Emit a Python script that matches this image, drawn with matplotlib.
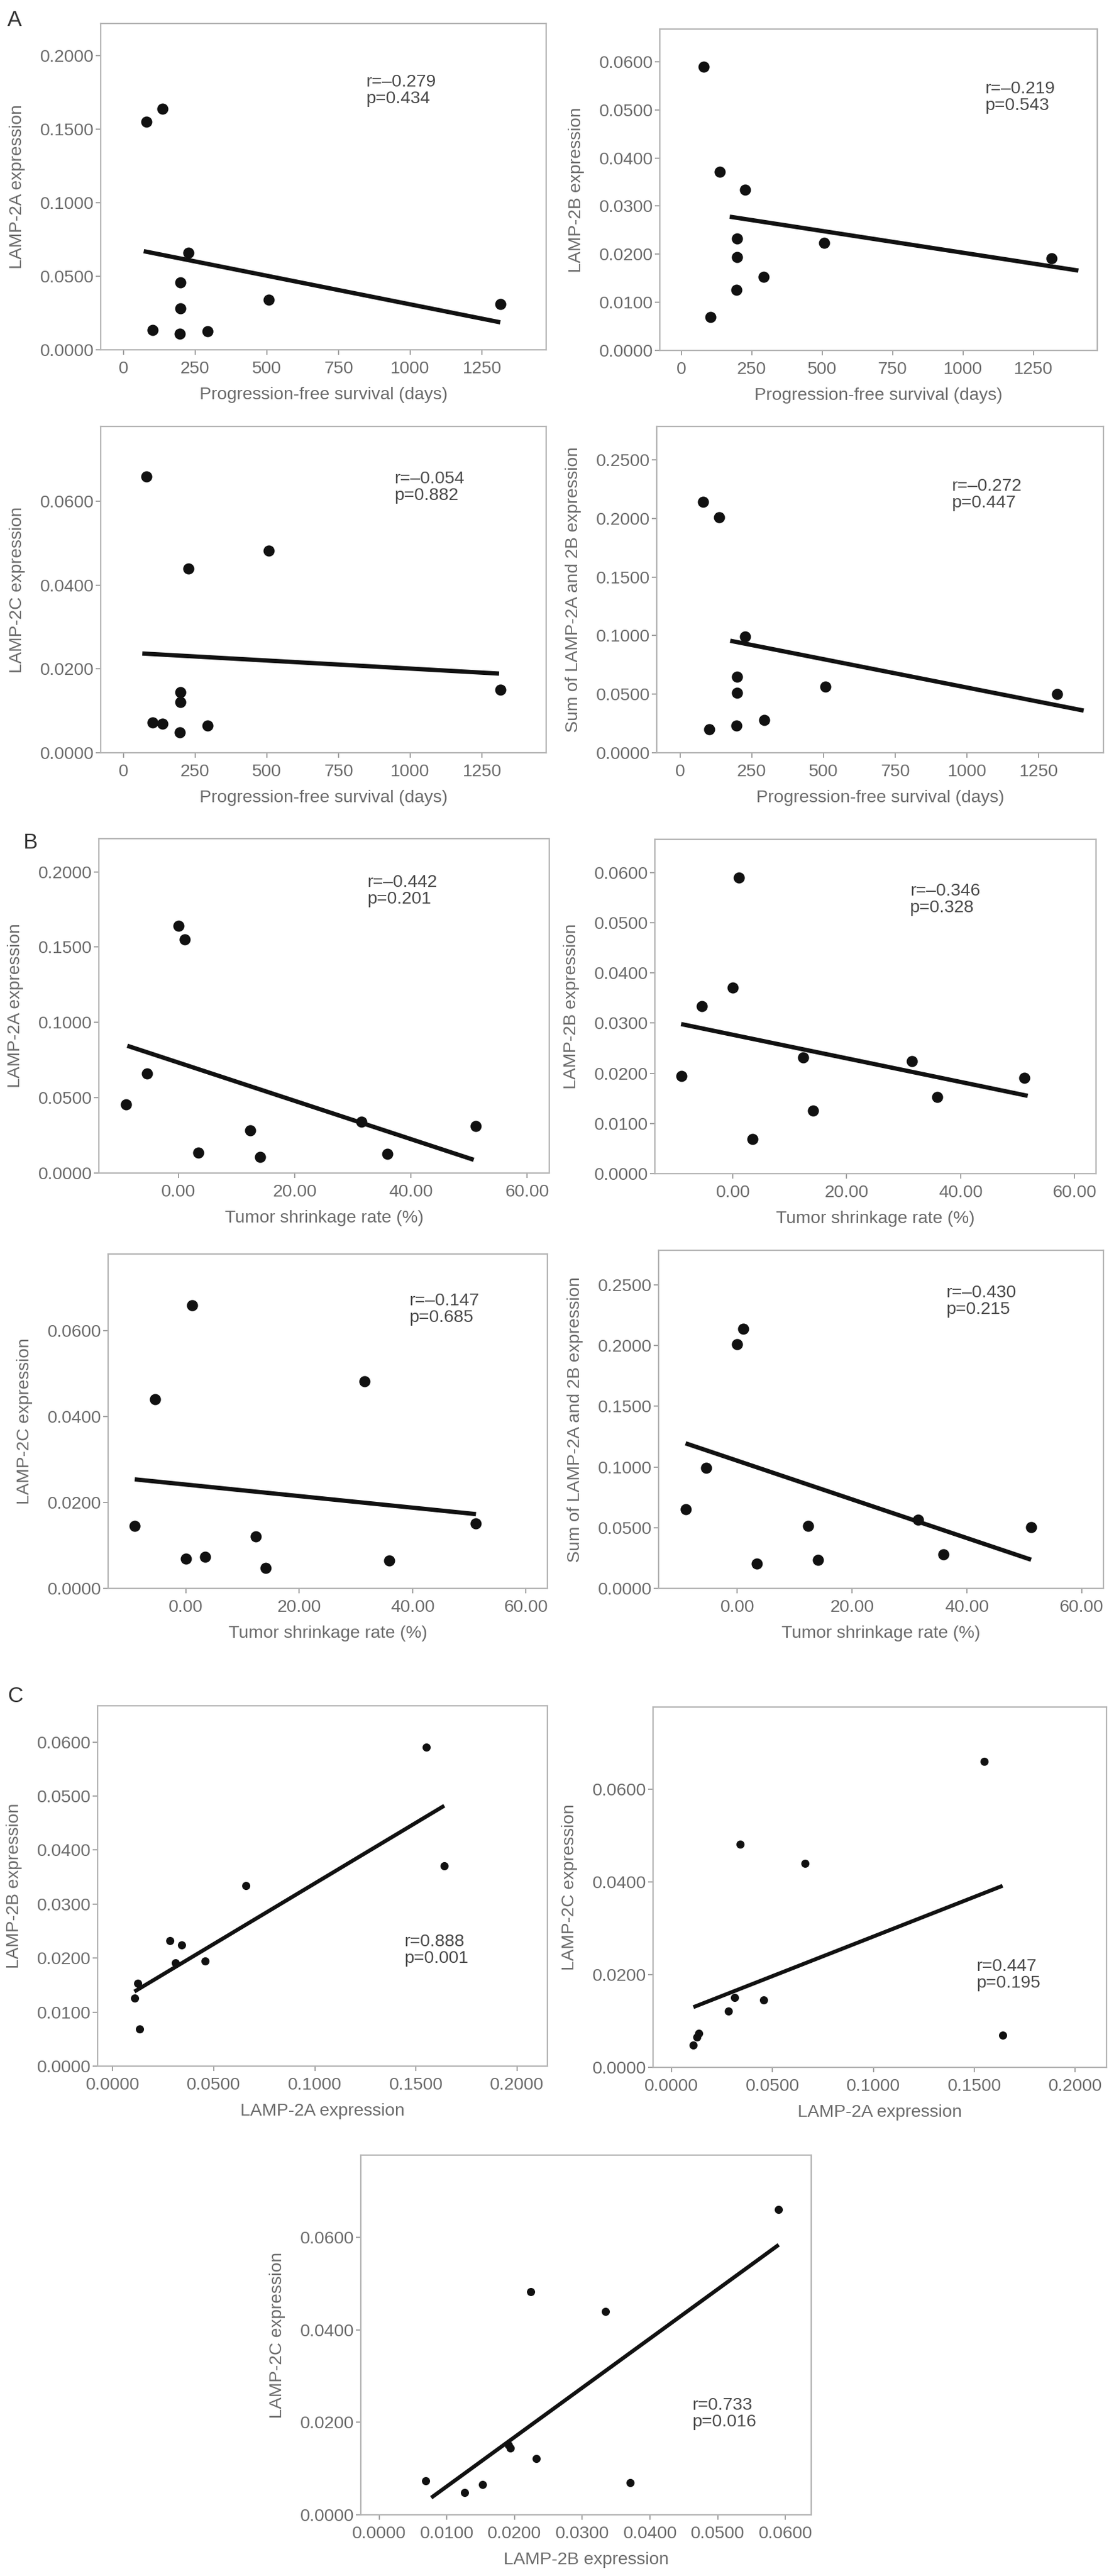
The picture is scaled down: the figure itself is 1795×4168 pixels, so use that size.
import matplotlib

matplotlib.use("Agg")
import matplotlib.pyplot as plt
import numpy as np

# per-patient values (same 10 patients in every panel)
pfs_days = [80, 136, 226, 103, 293, 507, 1314, 199, 199, 196]
shrink_pct = [1.1, 0.0, -5.4, 3.4, 35.9, 31.5, 51.2, -9.0, 12.3, 14.1]
lamp2a = [0.155, 0.164, 0.066, 0.0134, 0.0126, 0.034, 0.0312, 0.0457, 0.0282, 0.0108]
lamp2b = [0.059, 0.0371, 0.0334, 0.0069, 0.0153, 0.0224, 0.0191, 0.0194, 0.0232, 0.0126]
lamp2c = [0.066, 0.0069, 0.044, 0.0073, 0.0065, 0.0482, 0.0151, 0.0145, 0.0121, 0.0048]
lamp2a_2b = list(np.add(lamp2a, lamp2b))

# fitted lines as drawn in the reference (endpoints)
fit_x = {
    "A1": [71, 1314], "A2": [172, 1409], "A3": [66, 1310], "A4": [175, 1406],
    "B1": [-8.8, 50.8], "B2": [-9.1, 51.8], "B3": [-9.0, 51.2], "B4": [-9.0, 51.2],
    "C1": [0.0108, 0.164], "C2": [0.0108, 0.164], "C3": [0.0077, 0.059],
}
fit_y = {
    "A1": [0.0671, 0.0187], "A2": [0.0278, 0.0166], "A3": [0.0237, 0.0189], "A4": [0.0956, 0.0360],
    "B1": [0.0845, 0.0088], "B2": [0.0298, 0.0155], "B3": [0.0254, 0.0173], "B4": [0.1195, 0.0236],
    "C1": [0.0138, 0.0482], "C2": [0.0130, 0.0392], "C3": [0.0037, 0.0584],
}
stats = {
    "A1": ("–0.279", "0.434"), "A2": ("–0.219", "0.543"), "A3": ("–0.054", "0.882"),
    "A4": ("–0.272", "0.447"), "B1": ("–0.442", "0.201"), "B2": ("–0.346", "0.328"),
    "B3": ("–0.147", "0.685"), "B4": ("–0.430", "0.215"), "C1": ("0.888", "0.001"),
    "C2": ("0.447", "0.195"), "C3": ("0.733", "0.016"),
}

pfs_ticks = [0, 250, 500, 750, 1000, 1250]
shrink_ticks = [0, 20, 40, 60]
ticks_2a = [0, 0.05, 0.10, 0.15, 0.20]
ticks_2b = [0, 0.01, 0.02, 0.03, 0.04, 0.05, 0.06]
ticks_2c = [0, 0.02, 0.04, 0.06]
ticks_sum = [0, 0.05, 0.10, 0.15, 0.20, 0.25]

W, H = 1795, 4168
plt.rcParams["font.family"] = ["Liberation Sans", "DejaVu Sans"]
plt.rcParams["font.size"] = 20.5
LABEL_C = "#6b6b6b"
SPINE_C = "#b3b3b3"

fig = plt.figure(figsize=(W / 100, H / 100), dpi=100)


def panel(key, box, x, y, xlim, ylim, xticks, yticks, xfmt, yfmt, xlabel, ylabel, stat_pos,
          ms=13, lw=5.0):
    l, t, r, b = box
    wpx, hpx = r - l, b - t
    ax = fig.add_axes([l / W, 1 - b / H, wpx / W, hpx / H])
    ax.plot(x, y, "o", color="#111111", ms=ms, mec="none", zorder=3)
    ax.plot(fit_x[key], fit_y[key], "-", color="#111111", lw=lw, solid_capstyle="butt", zorder=2)
    ax.set_xlim(*xlim)
    ax.set_ylim(*ylim)
    ax.set_xticks(xticks)
    ax.set_yticks(yticks)
    ax.set_xticklabels([xfmt.format(v) for v in xticks])
    ax.set_yticklabels([yfmt.format(v) for v in yticks])
    for s in ax.spines.values():
        s.set_color(SPINE_C)
        s.set_linewidth(1.6)
    ax.tick_params(colors=LABEL_C, color="#9a9a9a", width=1.3, length=6, direction="out")
    ax.tick_params(axis="x", pad=7)
    ax.tick_params(axis="y", pad=2)
    ax.set_xlabel(xlabel, color=LABEL_C)
    ax.set_ylabel(ylabel, color=LABEL_C)
    ax.xaxis.set_label_coords(0.5, -60 / hpx)
    ax.yaxis.set_label_coords(-122 / wpx, 0.5)
    r_txt, p_txt = stats[key]
    ax.text(stat_pos[0], stat_pos[1], f"r={r_txt}\np={p_txt}", transform=ax.transAxes,
            ha="left", va="top", color="#4a4a4a", linespacing=1.05)
    return ax


pfs_lab = "Progression-free survival (days)"
ts_lab = "Tumor shrinkage rate (%)"
f4 = "{:.4f}"
f2 = "{:.2f}"
fi = "{:.0f}"

# A: expression vs progression-free survival
panel("A1", (163, 38, 884, 566), pfs_days, lamp2a, (-79, 1474), (0, 0.222), pfs_ticks, ticks_2a,
      fi, f4, pfs_lab, "LAMP-2A expression", (0.595, 0.845))
panel("A2", (1068, 47, 1776, 567), pfs_days, lamp2b, (-76, 1476), (0, 0.0668), pfs_ticks, ticks_2b,
      fi, f4, pfs_lab, "LAMP-2B expression", (0.743, 0.838))
panel("A3", (163, 690, 884, 1218), pfs_days, lamp2c, (-79, 1474), (0, 0.0779), pfs_ticks, ticks_2c,
      fi, f4, pfs_lab, "LAMP-2C expression", (0.659, 0.864))
panel("A4", (1063, 690, 1786, 1218), pfs_days, lamp2a_2b, (-81, 1475), (0, 0.2785), pfs_ticks, ticks_sum,
      fi, f4, pfs_lab, "Sum of LAMP-2A and 2B expression", (0.66, 0.84))

# B: expression vs tumor shrinkage rate
panel("B1", (160, 1357, 889, 1898), shrink_pct, lamp2a, (-13.7, 63.8), (0, 0.222), shrink_ticks, ticks_2a,
      f2, f4, ts_lab, "LAMP-2A expression", (0.596, 0.893))
panel("B2", (1060, 1358, 1774, 1899), shrink_pct, lamp2b, (-13.7, 63.8), (0, 0.0666), shrink_ticks, ticks_2b,
      f2, f4, ts_lab, "LAMP-2B expression", (0.578, 0.869))
panel("B3", (175, 2029, 886, 2570), shrink_pct, lamp2c, (-13.7, 63.8), (0, 0.0779), shrink_ticks, ticks_2c,
      f2, f4, ts_lab, "LAMP-2C expression", (0.685, 0.883))
panel("B4", (1066, 2023, 1786, 2570), shrink_pct, lamp2a_2b, (-13.7, 63.8), (0, 0.2785), shrink_ticks, ticks_sum,
      f2, f4, ts_lab, "Sum of LAMP-2A and 2B expression", (0.646, 0.898))

# C: isoform vs isoform
panel("C1", (158, 2760, 886, 3343), lamp2a, lamp2b, (-0.0074, 0.215), (0, 0.0667), ticks_2a, ticks_2b,
      f4, f4, "LAMP-2A expression", "LAMP-2B expression", (0.681, 0.367), ms=9.5, lw=4.5)
panel("C2", (1057, 2762, 1791, 3345), lamp2a, lamp2c, (-0.0092, 0.2155), (0, 0.0778), ticks_2a, ticks_2c,
      f4, f4, "LAMP-2A expression", "LAMP-2C expression", (0.713, 0.302), ms=9.5, lw=4.5)
panel("C3", (584, 3487, 1313, 4069), lamp2b, lamp2c, (-0.0027, 0.0638), (0, 0.0778), ticks_2b, ticks_2c,
      f4, f4, "LAMP-2B expression", "LAMP-2C expression", (0.735, 0.326), ms=9.5, lw=4.5)

for letter, (px, py) in {"A": (12, 16), "B": (37, 1347), "C": (12, 2728)}.items():
    fig.text(px / W, 1 - py / H, letter, ha="left", va="top", fontsize=25, color="#333333")

fig.savefig("out.png", dpi=100, facecolor="white")
